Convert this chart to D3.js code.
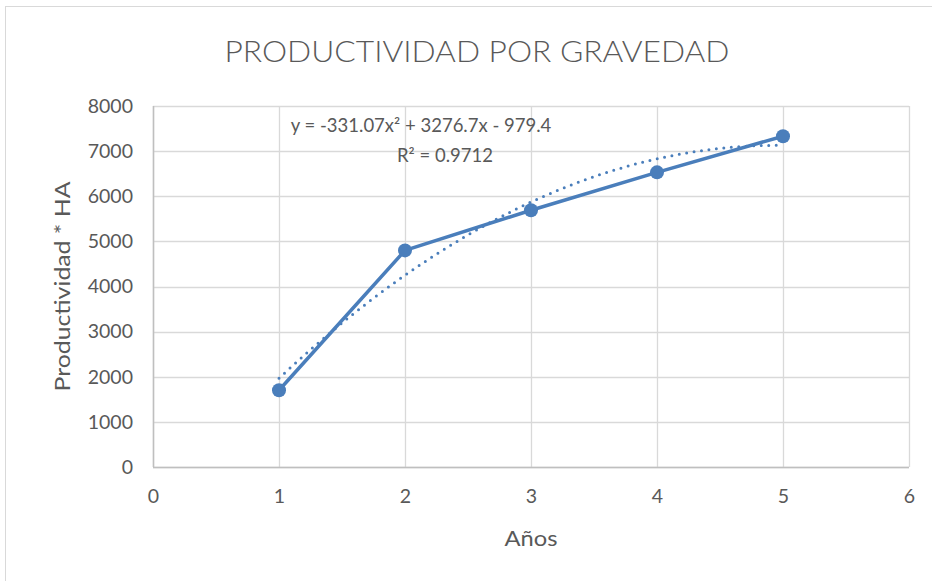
<!DOCTYPE html>
<html>
<head>
<meta charset="utf-8">
<script src="https://cdn.jsdelivr.net/npm/d3@7"></script>
<style>
  body { margin: 0; background: #fff; }
  text { font-family: Lato, "Open Sans", sans-serif; fill: #595959; }
</style>
</head>
<body>
<svg id="chart" width="932" height="581"></svg>
<script>
// data
const years = [1, 2, 3, 4, 5];
const productividad = [1700, 4800, 5690, 6530, 7330];
const xTicks = [0, 1, 2, 3, 4, 5, 6];
const yTicks = [0, 1000, 2000, 3000, 4000, 5000, 6000, 7000, 8000];
// trendline coefficients as printed on the chart (a, b, c)
const trendCoef = [-331.07, 3276.7, -979.4];
const trendLabel = ["y = -331.07x² + 3276.7x - 979.4", "R² = 0.9712"];

const svg = d3.select("#chart");
const margin = {left: 153, right: 23, top: 106, bottom: 114};
const W = 932, H = 581;

// outer frame
svg.append("rect")
  .attr("x", 5.5).attr("y", 6.5)
  .attr("width", W).attr("height", H)
  .attr("fill", "none").attr("stroke", "#d9d9d9");

const x = d3.scaleLinear().domain([0, 6]).range([margin.left, W - margin.right]);
const y = d3.scaleLinear().domain([0, 8000]).range([H - margin.bottom, margin.top]);

const grid = svg.append("g").attr("class", "grid");
grid.selectAll(".hg").data(yTicks).enter().append("line")
  .attr("x1", x(0)).attr("x2", x(6))
  .attr("y1", d => Math.round(y(d)) + 0.5).attr("y2", d => Math.round(y(d)) + 0.5)
  .attr("stroke", "#d9d9d9").attr("stroke-width", 1.3);
grid.selectAll(".vg").data(xTicks).enter().append("line")
  .attr("y1", y(0)).attr("y2", y(8000))
  .attr("x1", d => Math.round(x(d)) + 0.5).attr("x2", d => Math.round(x(d)) + 0.5)
  .attr("stroke", "#d9d9d9").attr("stroke-width", 1.3);

// axis lines
svg.append("line")
  .attr("x1", x(0)).attr("x2", x(6)).attr("y1", Math.round(y(0)) + 0.5).attr("y2", Math.round(y(0)) + 0.5)
  .attr("stroke", "#bfbfbf").attr("stroke-width", 1.5);
svg.append("line")
  .attr("x1", Math.round(x(0)) + 0.5).attr("x2", Math.round(x(0)) + 0.5).attr("y1", y(0)).attr("y2", y(8000))
  .attr("stroke", "#bfbfbf").attr("stroke-width", 1.5);

// tick labels
const xAxis = d3.axisBottom(x).tickValues(xTicks).tickSize(0).tickPadding(22).tickFormat(d3.format("d"));
const xg = svg.append("g").attr("transform", `translate(0,${y(0)})`).call(xAxis);
xg.select(".domain").remove();
xg.selectAll("text").style("font-size", "19.5px").attr("fill", "#595959");

const yAxis = d3.axisLeft(y).tickValues(yTicks).tickSize(0).tickPadding(20).tickFormat(d3.format("d"));
const yg = svg.append("g").attr("transform", `translate(${x(0)},0)`).call(yAxis);
yg.select(".domain").remove();
yg.selectAll("text").style("font-size", "19.5px").attr("fill", "#595959");

// trendline (dotted)
const trend = t => trendCoef[0] * t * t + trendCoef[1] * t + trendCoef[2];
const trendX = d3.range(1, 5.001, 0.05);
svg.append("path")
  .datum(trendX)
  .attr("d", d3.line().x(t => x(t)).y(t => y(trend(t))))
  .attr("fill", "none")
  .attr("stroke", "#4a7ebb")
  .attr("stroke-width", 3)
  .attr("stroke-linecap", "round")
  .attr("stroke-dasharray", "0 7.5");

// series
const pts = years.map((yr, i) => ({x: yr, y: productividad[i]}));
svg.append("path")
  .datum(pts)
  .attr("d", d3.line().x(d => x(d.x)).y(d => y(d.y)))
  .attr("fill", "none")
  .attr("stroke", "#4a7ebb")
  .attr("stroke-width", 3.5)
  .attr("stroke-linejoin", "round");
svg.selectAll(".pt").data(pts).enter().append("circle")
  .attr("cx", d => x(d.x)).attr("cy", d => y(d.y)).attr("r", 7)
  .attr("fill", "#4a7ebb");

// trendline label
svg.selectAll(".eq").data(trendLabel).enter().append("text")
  .attr("x", (d, i) => i === 0 ? 421 : 445)
  .attr("y", (d, i) => i === 0 ? 132 : 162)
  .attr("text-anchor", "middle")
  .style("font-size", "18.5px")
  .text(d => d);

// title
svg.append("text")
  .attr("x", 477).attr("y", 62)
  .attr("text-anchor", "middle")
  .attr("textLength", 505)
  .attr("lengthAdjust", "spacingAndGlyphs")
  .style("font-size", "29px")
  .style("font-weight", 300)
  .text("PRODUCTIVIDAD POR GRAVEDAD");

// axis titles
svg.append("text")
  .attr("x", x(3)).attr("y", 546)
  .attr("text-anchor", "middle")
  .attr("textLength", 53)
  .attr("lengthAdjust", "spacingAndGlyphs")
  .style("font-size", "22px")
  .text("Años");
svg.append("text")
  .attr("transform", `translate(70,${(y(0) + y(8000)) / 2}) rotate(-90)`)
  .attr("text-anchor", "middle")
  .attr("textLength", 210)
  .attr("lengthAdjust", "spacingAndGlyphs")
  .style("font-size", "22px")
  .text("Productividad * HA");
</script>
</body>
</html>
